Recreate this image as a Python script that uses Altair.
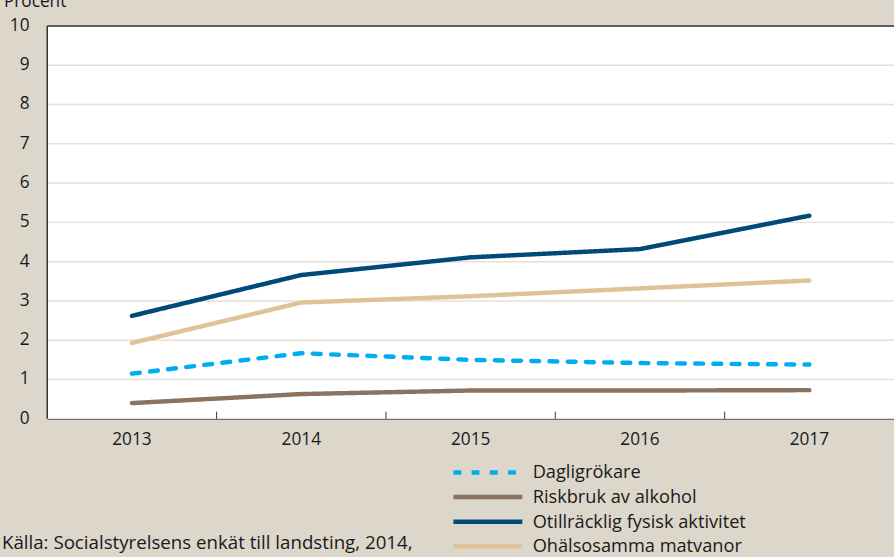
import altair as alt
import pandas as pd

years = ["2013", "2014", "2015", "2016", "2017"]
series_names = ["Dagligrökare", "Riskbruk av alkohol", "Otillräcklig fysisk aktivitet", "Ohälsosamma matvanor"]
dagligrokare = [1.15, 1.67, 1.50, 1.42, 1.38]
riskbruk = [0.40, 0.63, 0.72, 0.72, 0.73]
otillracklig = [2.62, 3.66, 4.11, 4.32, 5.17]
ohalsosamma = [1.93, 2.96, 3.12, 3.32, 3.52]
y_ticks = [0, 1, 2, 3, 4, 5, 6, 7, 8, 9, 10]
colors = ["#00AEEF", "#8C735F", "#004A78", "#DEC398"]
dashes = [[8, 10.5], [1, 0], [1, 0], [1, 0]]
tick_years = ["2014", "2015", "2016", "2017"]
y_title = "Procent"
source_text = "Källa: Socialstyrelsens enkät till landsting, 2014,"

rows = []
for name, vals in zip(series_names, [dagligrokare, riskbruk, otillracklig, ohalsosamma]):
    for y, v in zip(years, vals):
        rows.append({"year": y, "value": v, "serie": name})
df = pd.DataFrame(rows)
yt_df = pd.DataFrame({"tick": y_ticks})
ticks_df = pd.DataFrame({"year": tick_years})
one = pd.DataFrame({"k": [0]})

FONT = "Open Sans"
TXT = "#1a1a1a"
xscale = alt.Scale(domain=years, paddingInner=0, paddingOuter=0)
yscale = alt.Scale(domain=[0, 10], nice=False)
x_axis = alt.Axis(title=None, labelAngle=0, ticks=False, grid=False, domainColor="#000000",
                  domainWidth=1.5, labelFontSize=17.5, labelPadding=12, labelColor=TXT,
                  labelFont=FONT, labelFontWeight="normal")

grid = alt.Chart(yt_df).mark_rule(color="#E6E0D6", strokeWidth=1.5).encode(
    y=alt.Y("tick:Q", scale=yscale, axis=None),
    x=alt.value(0), x2=alt.value(860),
)
ylabels = alt.Chart(yt_df).mark_text(align="right", baseline="middle", fontSize=17.5, font=FONT,
                                     color=TXT, fontWeight="normal").encode(
    y=alt.Y("tick:Q", scale=yscale, axis=None),
    x=alt.value(-18),
    text=alt.Text("tick:Q"),
)

lines = alt.Chart(df).mark_line(strokeWidth=4.5, strokeCap="round", strokeJoin="round").encode(
    x=alt.X("year:N", scale=xscale, sort=years, axis=x_axis),
    y=alt.Y("value:Q", scale=yscale, axis=None),
    color=alt.Color("serie:N", scale=alt.Scale(domain=series_names, range=colors), sort=series_names,
                    legend=alt.Legend(title=None, orient="none", legendX=438, legendY=444, padding=0,
                                      symbolType="M-5,0H5", symbolSize=196, symbolStrokeWidth=4.5,
                                      labelFontSize=18.5, labelFont=FONT, labelColor=TXT,
                                      labelFontWeight="normal",
                                      labelOffset=36, rowPadding=6, labelLimit=400)),
    strokeDash=alt.StrokeDash("serie:N", scale=alt.Scale(domain=series_names, range=dashes),
                              sort=series_names, legend=None),
)

ticks = alt.Chart(ticks_df).mark_rule(color="#333333", strokeWidth=1).encode(
    x=alt.X("year:N", scale=xscale, bandPosition=0, axis=x_axis),
    y=alt.YDatum(datum=0, scale=yscale, axis=None),
    y2=alt.datum(0.18),
)

left_axis = alt.Chart(one).mark_rule(color="#333333", strokeWidth=1.5).encode(
    x=alt.value(0), y=alt.YDatum(datum=0, scale=yscale, axis=None), y2=alt.datum(10)
)
top_axis = alt.Chart(one).mark_rule(color="#333333", strokeWidth=1.5).encode(
    x=alt.value(0), x2=alt.value(860), y=alt.YDatum(datum=10, scale=yscale, axis=None)
)

title = alt.Chart(one).mark_text(
    text=y_title, align="left", baseline="alphabetic", fontSize=17.5, font=FONT,
    fontWeight="normal", color=TXT
).encode(x=alt.value(-44), y=alt.value(-19))

source = alt.Chart(one).mark_text(
    text=source_text, align="left", baseline="alphabetic",
    fontSize=19, font=FONT, fontWeight="normal", color=TXT
).encode(x=alt.value(-46), y=alt.value(531))

chart = alt.layer(grid, lines, ticks, left_axis, top_axis, ylabels, title, source).properties(
    width=860, height=399,
    autosize=alt.AutoSizeParams(type="none"),
    padding={"left": 48, "top": 22, "right": 0, "bottom": 136},
    background="#DCD6CB",
).configure_view(fill="#FFFFFF", stroke=None)

chart.save("out.html", embed_options={"renderer": "svg", "actions": False})
